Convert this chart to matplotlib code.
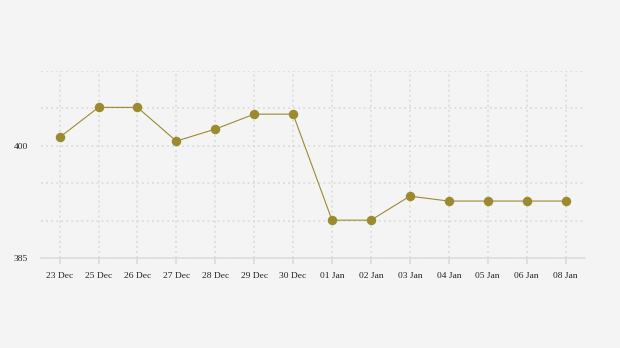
import matplotlib.pyplot as plt

# daily values
dates = ['23 Dec', '25 Dec', '26 Dec', '27 Dec', '28 Dec', '29 Dec', '30 Dec',
         '01 Jan', '02 Jan', '03 Jan', '04 Jan', '05 Jan', '06 Jan', '08 Jan']
values = [401.1, 405.1, 405.1, 400.6, 402.2, 404.2, 404.2,
          390.05, 390.05, 393.25, 392.6, 392.6, 392.6, 392.6]
y_ticks = [385, 390, 395, 400, 405, 410]
y_labels = ['385', '', '', '400', '', '']

bg = '#f4f4f4'
col = '#9c8a30'

plt.rcParams['font.family'] = ['Liberation Serif', 'DejaVu Serif']

fig = plt.figure(figsize=(6.2, 3.48), dpi=100, facecolor=bg)
ax = fig.add_axes([0.066, 0.2586, 0.8775, 0.5383], facecolor=bg)

x = list(range(len(dates)))
ax.plot(x, values, color=col, lw=0.8, marker='o', ms=5.8, mec=col, mfc=col)

ax.set_xlim(-0.48, 13.5)
ax.set_ylim(385, 410)
ax.set_xticks(x)
ax.set_xticklabels(dates)
ax.set_yticks(y_ticks)
ax.set_yticklabels(y_labels)

ax.grid(True, color='#d9d9d9', ls=(0, (1.3, 2.0)), lw=1.1)
ax.set_axisbelow(True)
for s in ['top', 'right', 'left']:
    ax.spines[s].set_visible(False)
ax.spines['bottom'].set_color('#dcdcdc')
ax.spines['bottom'].set_linewidth(1.1)

ax.tick_params(axis='x', length=4, color='#d9d9d9', width=1.1, pad=6,
               labelsize=6.8, labelcolor='#222222')
ax.tick_params(axis='y', length=0, pad=9.4, labelsize=6.8, labelcolor='#222222')

fig.savefig('out.png', dpi=100, facecolor=bg)
